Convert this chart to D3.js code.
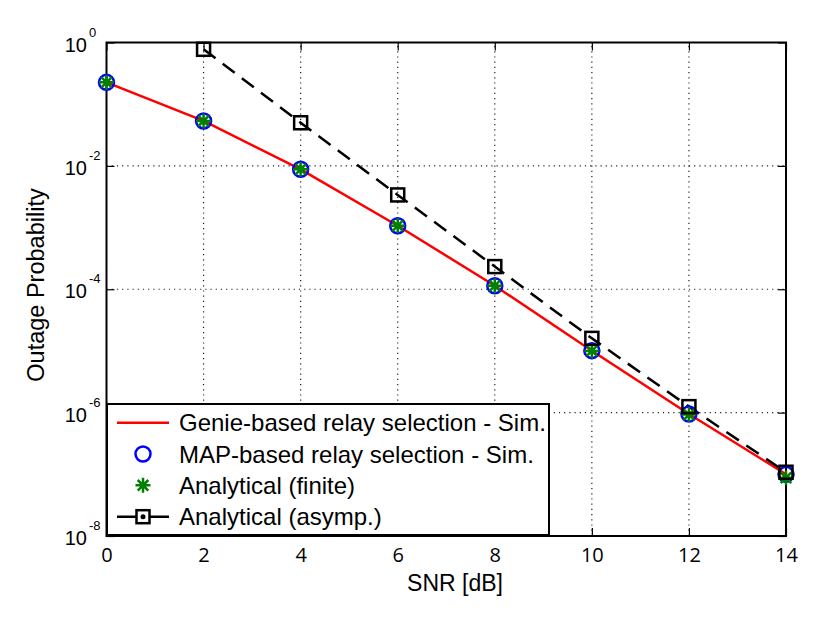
<!DOCTYPE html>
<html>
<head>
<meta charset="utf-8">
<script src="https://cdn.jsdelivr.net/npm/d3@7"></script>
<style>
  body { margin: 0; background: #fff; }
  svg { display: block; }
</style>
</head>
<body>
<div id="chart"></div>
<script>
// values
const snr = [0, 2, 4, 6, 8, 10, 12, 14];
const genieSim = [0.226, 0.0535, 8.8e-3, 1.07e-3, 1.14e-4, 1.01e-5, 9.5e-7, 1.0e-7];
const mapSim = [0.226, 0.0535, 8.8e-3, 1.07e-3, 1.14e-4, 1.01e-5, 9.5e-7, 1.0e-7];
const finite = [0.226, 0.0535, 8.8e-3, 1.07e-3, 1.14e-4, 1.0e-5, 9.3e-7, 8.8e-8];
const asympSnr = [2, 4, 6, 8, 10, 12, 14];
const asymp = [0.776, 0.050, 3.38e-3, 2.33e-4, 1.6e-5, 1.25e-6, 1.08e-7];

const xTicks = [0, 2, 4, 6, 8, 10, 12, 14];
const yExp = [0, -2, -4, -6, -8];
const legendLabels = [
  "Genie-based relay selection - Sim.",
  "MAP-based relay selection - Sim.",
  "Analytical (finite)",
  "Analytical (asymp.)"
];

const W = 830, H = 622;
const margin = {left: 106.5, right: 44, top: 42.5, bottom: 86};

const svg = d3.select("#chart").append("svg")
  .attr("width", W).attr("height", H);

const x = d3.scaleLinear().domain([0, 14]).range([margin.left, W - margin.right]);
const y = d3.scaleLog().domain([1e-8, 1]).range([H - margin.bottom, margin.top]);

const yTickVals = yExp.map(e => Math.pow(10, e));
const x0 = x.range()[0], x1 = x.range()[1];
const y0 = y.range()[0], y1 = y.range()[1];

// grid lines (dotted)
const grid = svg.append("g").attr("class", "grid");
grid.selectAll(".gx").data(xTicks.slice(1, -1)).enter().append("line")
  .attr("x1", d => x(d)).attr("x2", d => x(d))
  .attr("y1", y0).attr("y2", y1)
  .attr("stroke", "#222").attr("stroke-width", 1.2)
  .attr("stroke-dasharray", "1.2,4");
grid.selectAll(".gy").data(yTickVals.slice(1, -1)).enter().append("line")
  .attr("x1", x0).attr("x2", x1)
  .attr("y1", d => y(d)).attr("y2", d => y(d))
  .attr("stroke", "#222").attr("stroke-width", 1.2)
  .attr("stroke-dasharray", "1.2,4");

// axes with inward ticks
const xAxis = svg.append("g")
  .attr("transform", `translate(0,${y0})`)
  .call(d3.axisBottom(x).tickValues(xTicks).tickSize(-8).tickPadding(12).tickFormat(d3.format("d")));
const xAxisTop = svg.append("g")
  .attr("transform", `translate(0,${y1})`)
  .call(d3.axisTop(x).tickValues(xTicks).tickSize(-8).tickFormat(""));
const yAxis = svg.append("g")
  .attr("transform", `translate(${x0},0)`)
  .call(d3.axisLeft(y).tickValues(yTickVals).tickSize(-8).tickFormat(""));
const yAxisRight = svg.append("g")
  .attr("transform", `translate(${x1},0)`)
  .call(d3.axisRight(y).tickValues(yTickVals).tickSize(-8).tickFormat(""));

[xAxis, xAxisTop, yAxis, yAxisRight].forEach(g => {
  g.select(".domain").remove();
  g.selectAll(".tick line").attr("stroke", "#000").attr("stroke-width", 1.2);
});
xAxis.selectAll("text")
  .attr("font-family", "'Open Sans', sans-serif")
  .attr("font-size", 20).attr("fill", "#000");

// y tick labels as 10^n
svg.append("g").selectAll("text").data(yExp).enter().append("text")
  .attr("x", 87).attr("y", d => y(Math.pow(10, d)) + 9)
  .attr("text-anchor", "end")
  .attr("font-family", "'Liberation Sans', Arial, sans-serif")
  .attr("font-size", 20)
  .text("10");
svg.append("g").selectAll("text").data(yExp).enter().append("text")
  .attr("x", 89).attr("y", d => y(Math.pow(10, d)) - 6)
  .attr("font-family", "'Liberation Sans', Arial, sans-serif")
  .attr("font-size", 13)
  .text(d => d === 0 ? "0" : "-" + Math.abs(d));

// plot box
svg.append("rect")
  .attr("x", x0).attr("y", y1)
  .attr("width", x1 - x0).attr("height", y0 - y1)
  .attr("fill", "none").attr("stroke", "#000").attr("stroke-width", 2);

// series
const marks = svg.append("g");

const genieLine = d3.line().x((d, i) => x(snr[i])).y(d => y(d));
marks.append("path").datum(genieSim)
  .attr("d", genieLine)
  .attr("fill", "none").attr("stroke", "#ff0000").attr("stroke-width", 2.5);

const asympLine = d3.line().x((d, i) => x(asympSnr[i])).y(d => y(d));
marks.append("path").datum(asymp)
  .attr("d", asympLine)
  .attr("fill", "none").attr("stroke", "#000").attr("stroke-width", 2.5)
  .attr("stroke-dasharray", "15,9");

function starPath(cx, cy, r) {
  let p = "";
  for (let k = 0; k < 4; k++) {
    const a = k * Math.PI / 4;
    const dx = r * Math.cos(a), dy = r * Math.sin(a);
    p += `M${cx - dx},${cy - dy}L${cx + dx},${cy + dy}`;
  }
  return p;
}

marks.selectAll(".mapc").data(mapSim).enter().append("circle")
  .attr("cx", (d, i) => x(snr[i])).attr("cy", d => y(d))
  .attr("r", 7.5)
  .attr("fill", "none").attr("stroke", "#0000ff").attr("stroke-width", 2.5);

marks.selectAll(".star").data(finite).enter().append("path")
  .attr("d", (d, i) => starPath(x(snr[i]), y(d), 7.5))
  .attr("stroke", "#008000").attr("stroke-width", 2.5).attr("fill", "none");

marks.selectAll(".sq").data(asymp).enter().append("rect")
  .attr("x", (d, i) => x(asympSnr[i]) - 6.5).attr("y", d => y(d) - 6.5)
  .attr("width", 13).attr("height", 13)
  .attr("fill", "none").attr("stroke", "#000").attr("stroke-width", 2.5);

// axis labels
svg.append("text")
  .attr("x", 455).attr("y", 591)
  .attr("text-anchor", "middle")
  .attr("font-family", "'Liberation Sans', Arial, sans-serif")
  .attr("font-size", 23)
  .text("SNR [dB]");
svg.append("text")
  .attr("transform", "translate(44,285) rotate(-90)")
  .attr("text-anchor", "middle")
  .attr("font-family", "'Liberation Sans', Arial, sans-serif")
  .attr("font-size", 23.5)
  .text("Outage Probability");

// legend
const lg = svg.append("g");
lg.append("rect")
  .attr("x", 107).attr("y", 404)
  .attr("width", 442).attr("height", 131)
  .attr("fill", "#fff").attr("stroke", "#000").attr("stroke-width", 2);

const rowY = [422.7, 454, 485.3, 516.7];
const sx0 = 117, sx1 = 169, scx = 143;

lg.append("line").attr("x1", sx0).attr("x2", sx1)
  .attr("y1", rowY[0]).attr("y2", rowY[0])
  .attr("stroke", "#ff0000").attr("stroke-width", 2.5);
lg.append("circle").attr("cx", scx).attr("cy", rowY[1]).attr("r", 7.5)
  .attr("fill", "none").attr("stroke", "#0000ff").attr("stroke-width", 2.5);
lg.append("path").attr("d", starPath(scx, rowY[2], 7.5))
  .attr("stroke", "#008000").attr("stroke-width", 2.5);
lg.append("line").attr("x1", sx0).attr("x2", sx1)
  .attr("y1", rowY[3]).attr("y2", rowY[3])
  .attr("stroke", "#000").attr("stroke-width", 2.5);
lg.append("rect").attr("x", scx - 6.5).attr("y", rowY[3] - 6.5)
  .attr("width", 13).attr("height", 13)
  .attr("fill", "#fff").attr("stroke", "#000").attr("stroke-width", 2.5);
lg.append("circle").attr("cx", scx).attr("cy", rowY[3]).attr("r", 2.5).attr("fill", "#000");

lg.selectAll(".lt").data(legendLabels).enter().append("text")
  .attr("x", 179).attr("y", (d, i) => rowY[i] + 8.5)
  .attr("font-family", "'Liberation Sans', Arial, sans-serif")
  .attr("font-size", 24)
  .text(d => d);
</script>
</body>
</html>
